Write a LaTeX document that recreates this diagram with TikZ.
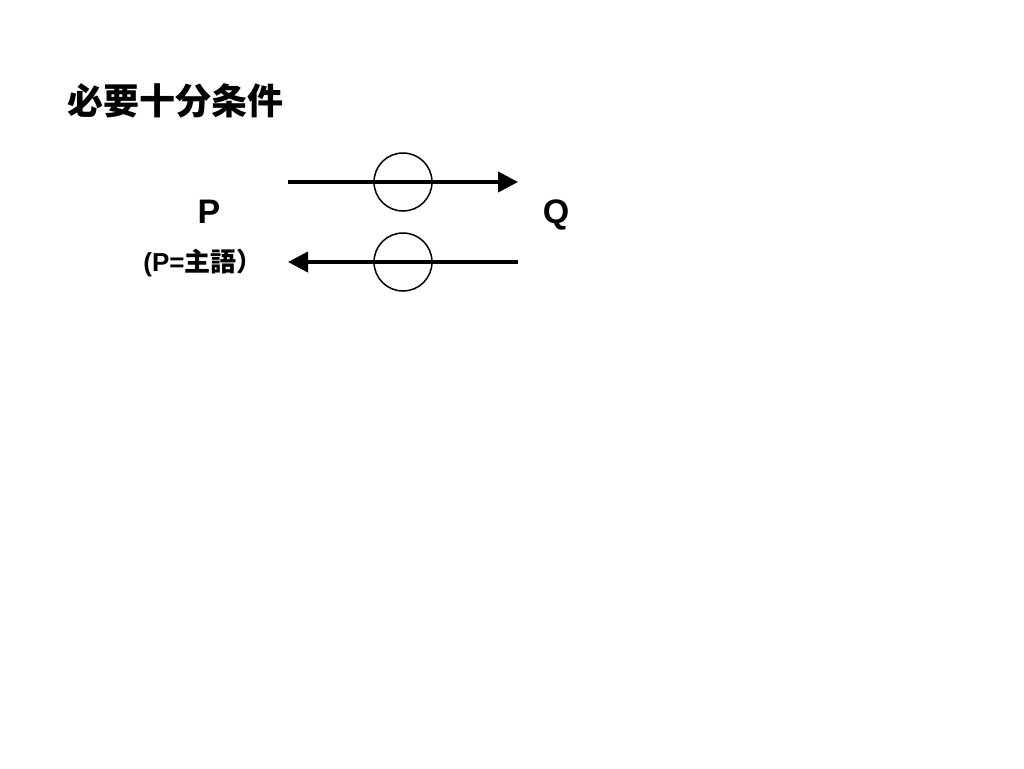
\documentclass[tikz,border=0pt]{standalone}
\usepackage{fontspec}
\setmainfont{Liberation Sans}
\newfontfamily\cjk{Noto Sans CJK JP}
\usetikzlibrary{arrows.meta}
\begin{document}
\begin{tikzpicture}[x=1pt,y=-1pt,
  arr/.style={line width=4pt,-{Triangle[length=20pt,width=20pt]}},
  ring/.style={draw,circle,line width=1.5pt,minimum size=58pt,inner sep=0pt},
  lbl/.style={font=\fontsize{34}{34}\selectfont\bfseries,inner sep=0pt,anchor=base}]
\useasboundingbox[fill=white] (0,0) rectangle (1024,768);
\node[anchor=west,inner sep=0pt,font=\fontsize{36}{36}\selectfont\cjk\bfseries] (title) at (67,101) {必要十分条件};
\node[lbl] (P) at (209,223) {P};
\node[lbl] (Q) at (556,223) {Q};
\node[inner sep=0pt,font=\fontsize{26}{26}\selectfont\bfseries] (sub) at (203,263) {(P={\cjk 主語）}};
\coordinate (a1) at (288,182);
\coordinate (b1) at (518,182);
\coordinate (a2) at (518,262);
\coordinate (b2) at (288,262);
\draw[arr] (a1) -- (b1);
\draw[arr] (a2) -- (b2);
\node[ring] (c1) at (403,182) {};
\node[ring] (c2) at (403,262) {};
\end{tikzpicture}
\end{document}
